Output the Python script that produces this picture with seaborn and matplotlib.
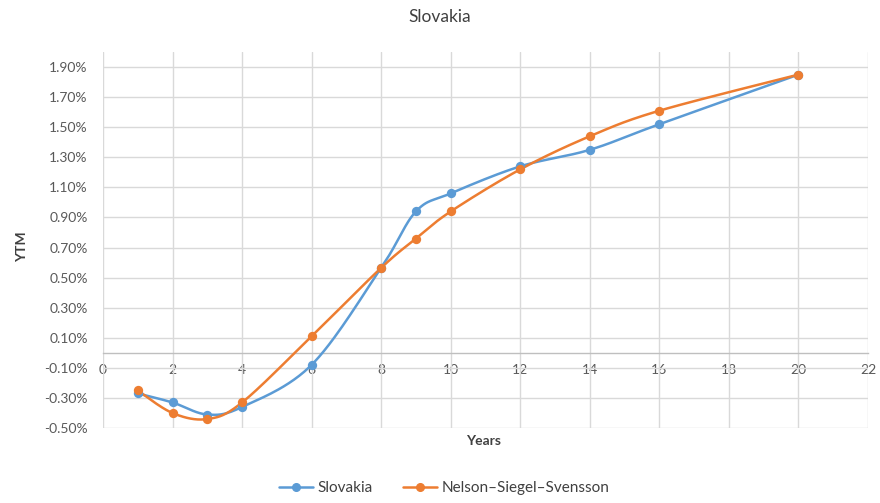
import numpy as np
import pandas as pd
import matplotlib
matplotlib.use("Agg")
import matplotlib.pyplot as plt
from matplotlib.lines import Line2D
from matplotlib.ticker import FuncFormatter
import seaborn as sns

years = [1, 2, 3, 4, 6, 8, 9, 10, 12, 14, 16, 20]
slovakia = [-0.27, -0.33, -0.41, -0.36, -0.08, 0.565, 0.94, 1.06, 1.24, 1.35, 1.52, 1.85]
nss = [-0.25, -0.40, -0.44, -0.33, 0.11, 0.565, 0.76, 0.94, 1.22, 1.44, 1.61, 1.85]
series_names = ["Slovakia", "Nelson\u2013Siegel\u2013Svensson"]
colors = ["#5B9BD5", "#ED7D31"]
x_ticks = list(range(0, 23, 2))
y_ticks = [-0.5, -0.3, -0.1, 0.1, 0.3, 0.5, 0.7, 0.9, 1.1, 1.3, 1.5, 1.7, 1.9]


def smooth(x, y, n=30):
    # Excel-like smoothed line (bezier through the points)
    x = np.asarray(x, float)
    y = np.asarray(y, float)
    xs, ys = [], []
    for i in range(len(x) - 1):
        p0 = (x[i - 1], y[i - 1]) if i > 0 else (x[i], y[i])
        p1 = (x[i], y[i])
        p2 = (x[i + 1], y[i + 1])
        p3 = (x[i + 2], y[i + 2]) if i + 2 < len(x) else (x[i + 1], y[i + 1])
        c1 = (p1[0] + (p2[0] - p0[0]) / 6, p1[1] + (p2[1] - p0[1]) / 6)
        c2 = (p2[0] - (p3[0] - p1[0]) / 6, p2[1] - (p3[1] - p1[1]) / 6)
        t = np.linspace(0, 1, n)
        bx = (1 - t) ** 3 * p1[0] + 3 * (1 - t) ** 2 * t * c1[0] + 3 * (1 - t) * t ** 2 * c2[0] + t ** 3 * p2[0]
        by = (1 - t) ** 3 * p1[1] + 3 * (1 - t) ** 2 * t * c1[1] + 3 * (1 - t) * t ** 2 * c2[1] + t ** 3 * p2[1]
        xs.extend(bx)
        ys.extend(by)
    return np.array(xs), np.array(ys)


sns.set_theme(style="white")
plt.rcParams["font.family"] = ["Lato", "DejaVu Sans"]

fig = plt.figure(figsize=(8.8, 5.03), dpi=100)
ax = fig.add_axes([0.117, 0.149, 0.8693, 0.7475])

for name, vals, c in zip(series_names, [slovakia, nss], colors):
    sx, sy = smooth(years, vals)
    sns.lineplot(x=sx, y=sy, sort=False, color=c, linewidth=1.8, ax=ax, zorder=3)
    df = pd.DataFrame({"Years": years, "YTM": vals})
    sns.scatterplot(data=df, x="Years", y="YTM", color=c, s=45, edgecolor=c,
                    linewidth=0, ax=ax, zorder=4)

ax.set_xlim(0, 22)
ax.set_ylim(-0.5, 2.0)
ax.set_xticks(x_ticks)
ax.set_yticks(y_ticks)
ax.yaxis.set_major_formatter(FuncFormatter(lambda v, p: f"{v:.2f}%"))

grid_c = "#D9D9D9"
for xv in x_ticks:
    ax.axvline(xv, color=grid_c, linewidth=1, zorder=1)
for yv in y_ticks:
    ax.axhline(yv, color=grid_c, linewidth=1, zorder=1)

for s in ["top", "right", "left"]:
    ax.spines[s].set_visible(False)
ax.spines["bottom"].set_position(("data", 0))
ax.spines["bottom"].set_color("#BFBFBF")
ax.spines["bottom"].set_linewidth(1)

ax.tick_params(axis="both", length=0, labelsize=10, labelcolor="#595959")
ax.tick_params(axis="x", pad=8)
ax.tick_params(axis="y", pad=11)

ax.set_xlabel("")
ax.set_ylabel("")
fig.text(0.549, 0.124, "Years", ha="center", va="center", fontsize=10,
         color="#404040", fontweight="bold")
fig.text(0.025, 0.509, "YTM", ha="center", va="center", rotation=90, fontsize=10,
         color="#404040", fontweight="bold")
fig.text(0.5, 0.966, "Slovakia", ha="center", va="center", fontsize=12.5, color="#404040")

handles = [Line2D([0], [0], color=c, linewidth=1.8, marker="o", markersize=5.5)
           for c in colors]
fig.legend(handles, series_names, loc="center", bbox_to_anchor=(0.505, 0.03), ncol=2,
           frameon=False, fontsize=11, handlelength=2.2, columnspacing=2.0,
           labelcolor="#404040", handletextpad=0.3)

fig.savefig("out.png", dpi=100)
